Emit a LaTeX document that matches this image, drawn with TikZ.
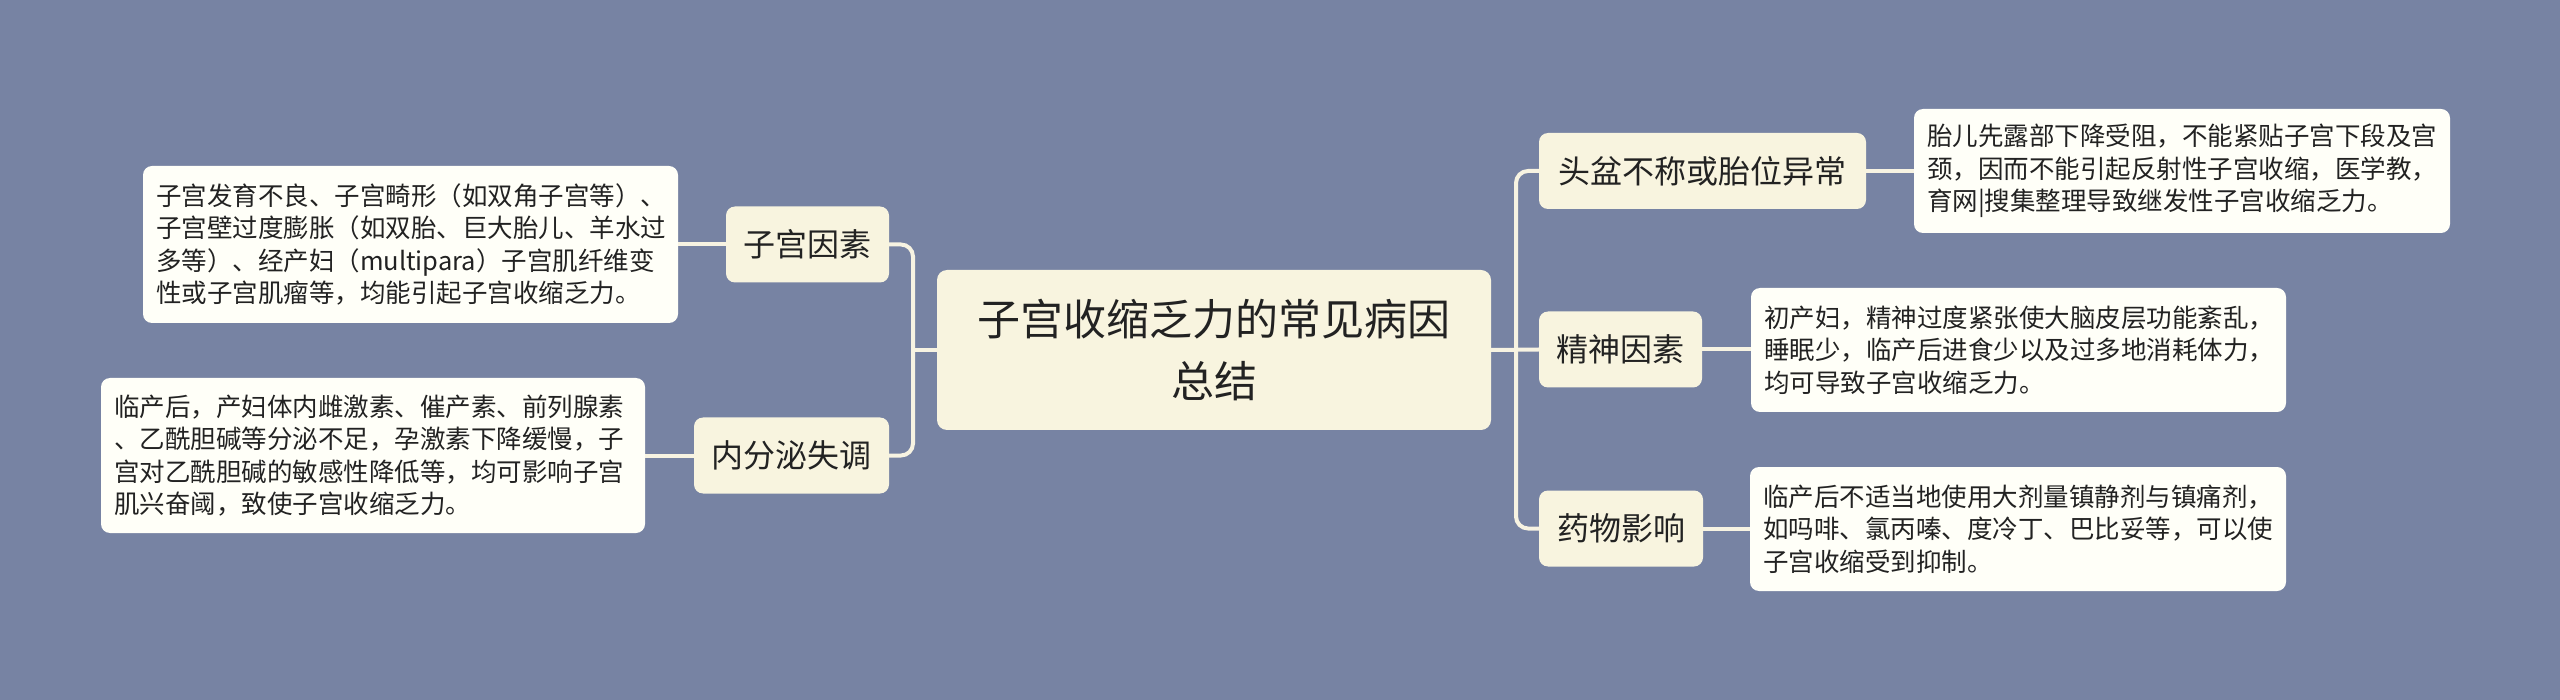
\documentclass[tikz,border=0pt]{standalone}
\usepackage{fontspec}
\setmainfont{Noto Sans CJK SC}
\definecolor{bgc}{HTML}{7783A3}
\definecolor{creamc}{HTML}{F8F4DF}
\definecolor{descc}{HTML}{FFFFF8}
\definecolor{linec}{HTML}{F7F3E2}
\definecolor{txtc}{HTML}{222222}
\tikzset{
  rootbox/.style={fill=creamc, rounded corners=10pt, text=txtc, align=center,
    minimum width=554pt, minimum height=160pt, inner sep=0pt,
    font=\fontsize{43}{62}\selectfont},
  branchbox/.style={fill=creamc, rounded corners=9pt, text=txtc, align=center,
    minimum height=76pt, inner sep=0pt, font=\fontsize{32}{40}\selectfont},
  descbox/.style={fill=descc, rounded corners=9pt, text=txtc, align=left,
    inner xsep=13pt, inner ysep=0pt, font=\fontsize{25.5}{32.5}\selectfont},
  conn/.style={draw=linec, line width=4pt, rounded corners=12pt},
}
\begin{document}
\begin{tikzpicture}[x=1pt,y=-1pt]
\fill[bgc] (0,0) rectangle (2560,700);
\useasboundingbox (0,0) rectangle (2560,700);

% root
\node[rootbox] (root) at (1214,350) {子宫收缩乏力的常见病因\\总结};

% left branches
\node[branchbox, minimum width=163pt] (zg) at (807.5,244.5) {子宫因素};
\node[branchbox, minimum width=195pt] (nf) at (791.5,455.5) {内分泌失调};

% right branches
\node[branchbox, minimum width=327pt] (tp) at (1702.5,171) {头盆不称或胎位异常};
\node[branchbox, minimum width=163pt] (js) at (1620.5,349.5) {精神因素};
\node[branchbox, minimum width=164pt] (yw) at (1621,528.5) {药物影响};

% descriptions
\node[descbox, text width=509pt, minimum height=157pt] (dzg) at (410.5,244.5)
  {子宫发育不良、子宫畸形（如双角子宫等）、\\子宫壁过度膨胀（如双胎、巨大胎儿、羊水过\\多等）、经产妇（multipara）子宫肌纤维变\\性或子宫肌瘤等，均能引起子宫收缩乏力。};
\node[descbox, text width=518pt, minimum height=155pt] (dnf) at (373,455.5)
  {临产后，产妇体内雌激素、催产素、前列腺素\\、乙酰胆碱等分泌不足，孕激素下降缓慢，子\\宫对乙酰胆碱的敏感性降低等，均可影响子宫\\肌兴奋阈，致使子宫收缩乏力。};
\node[descbox, text width=510pt, minimum height=124pt] (dtp) at (2182,171)
  {胎儿先露部下降受阻，不能紧贴子宫下段及宫\\颈，因而不能引起反射性子宫收缩，医学教，\\育网|搜集整理导致继发性子宫收缩乏力。};
\node[descbox, text width=509pt, minimum height=124pt] (djs) at (2018.5,350)
  {初产妇，精神过度紧张使大脑皮层功能紊乱，\\睡眠少，临产后进食少以及过多地消耗体力，\\均可导致子宫收缩乏力。};
\node[descbox, text width=510pt, minimum height=124pt] (dyw) at (2018,529)
  {临产后不适当地使用大剂量镇静剂与镇痛剂，\\如吗啡、氯丙嗪、度冷丁、巴比妥等，可以使\\子宫收缩受到抑制。};

% junctions
\coordinate (lj) at (913,350);
\coordinate (rj) at (1516,350);

% connectors
\draw[conn] (root.west) -- (lj);
\draw[conn] (zg.east) -| (lj) |- (nf.east);
\draw[conn] (root.east) -- (js.west);
\draw[conn] (tp.west) -| (rj) |- (yw.west);

\draw[conn] (zg.west) -- (zg.west -| dzg.east);
\draw[conn] (nf.west) -- (nf.west -| dnf.east);
\draw[conn] (tp.east) -- (tp.east -| dtp.west);
\draw[conn] (js.east) -- (js.east -| djs.west);
\draw[conn] (yw.east) -- (yw.east -| dyw.west);
\end{tikzpicture}
\end{document}
